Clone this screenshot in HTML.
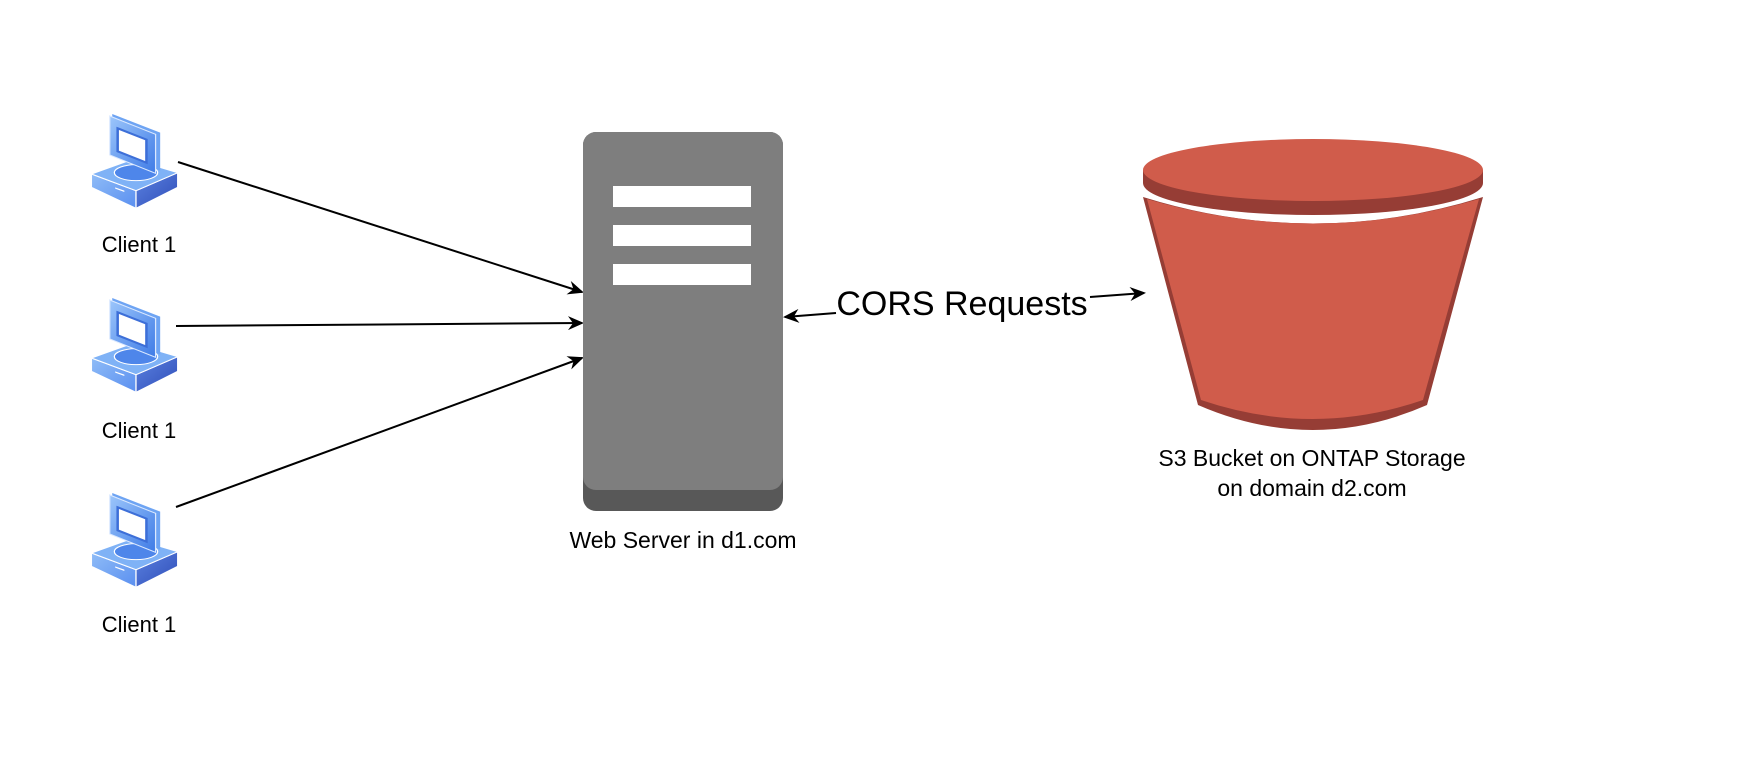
<!DOCTYPE html>
<html><head><meta charset="utf-8"><style>
html,body{margin:0;padding:0;background:#fff;}
svg{display:block;}
text{font-family:"Liberation Sans",Arial,sans-serif;fill:#000;}
</style></head><body>
<svg width="1748" height="758" viewBox="0 0 1748 758" xmlns="http://www.w3.org/2000/svg">
<defs>
<marker id="ah" markerWidth="16" markerHeight="14" refX="14" refY="7" orient="auto" markerUnits="userSpaceOnUse">
<path d="M0,0 L16,7 L0,14 L5,7 Z" fill="#000"/>
</marker>
<linearGradient id="gm" x1="0" y1="0" x2="1" y2="1">
<stop offset="0" stop-color="#9cc6fb"/><stop offset="1" stop-color="#3f7be6"/></linearGradient>
<linearGradient id="gl" x1="0" y1="0" x2="1" y2="1">
<stop offset="0" stop-color="#8fbcf7"/><stop offset="1" stop-color="#5a8ff0"/></linearGradient>
<linearGradient id="gr" x1="0" y1="0" x2="1" y2="1">
<stop offset="0" stop-color="#5b82e0"/><stop offset="1" stop-color="#2f4db8"/></linearGradient>
<g id="pc">
<polygon points="133,222 240,272 240,325 133,262" fill="url(#gl)" stroke="#fff" stroke-width="3"/>
<polygon points="240,272 340,218 340,262 240,325" fill="url(#gr)" stroke="#fff" stroke-width="3"/>
<polygon points="133,222 232,178 340,218 240,272" fill="#7fb2f6" stroke="#fff" stroke-width="3"/>
<ellipse cx="240" cy="218" rx="52" ry="24" fill="#4e86ea" stroke="#fff" stroke-width="3"/>
<polygon points="183,42 298,98 298,212 183,156" fill="#6ea4f3"/>
<polygon points="177,48 287,103 287,220 177,165" fill="url(#gm)" stroke="#dbe9ff" stroke-width="3"/>
<polygon points="196,85 265,119 265,188 196,154" fill="#fff" stroke="#3d6fd8" stroke-width="6"/>
<polygon points="190,262 212,272 212,276 190,266" fill="#fff"/>
</g>
</defs>

<!-- clients -->
<g transform="translate(36,100) scale(0.4167,0.3333)"><use href="#pc"/></g>
<g transform="translate(36,284) scale(0.4167,0.3333)"><use href="#pc"/></g>
<g transform="translate(36,479) scale(0.4167,0.3333)"><use href="#pc"/></g>
<text x="139" y="252" font-size="22" text-anchor="middle">Client 1</text>
<text x="139" y="438" font-size="22" text-anchor="middle">Client 1</text>
<text x="139" y="632" font-size="22" text-anchor="middle">Client 1</text>

<!-- arrows clients -> server -->
<line x1="178" y1="162" x2="582" y2="292" stroke="#000" stroke-width="2" marker-end="url(#ah)"/>
<line x1="176" y1="326" x2="582" y2="323" stroke="#000" stroke-width="2" marker-end="url(#ah)"/>
<line x1="176" y1="507" x2="582" y2="358" stroke="#000" stroke-width="2" marker-end="url(#ah)"/>

<!-- server -->
<rect x="583" y="132" width="200" height="379" rx="13" fill="#585858"/>
<rect x="583" y="132" width="200" height="358" rx="13" fill="#7e7e7e"/>
<rect x="613" y="186" width="138" height="21" fill="#fff"/>
<rect x="613" y="225" width="138" height="21" fill="#fff"/>
<rect x="613" y="264" width="138" height="21" fill="#fff"/>
<text x="683" y="548" font-size="23" text-anchor="middle">Web Server in d1.com</text>

<!-- CORS -->
<line x1="836" y1="313" x2="785" y2="317" stroke="#000" stroke-width="2" marker-end="url(#ah)"/>
<line x1="1090" y1="297" x2="1144" y2="293" stroke="#000" stroke-width="2" marker-end="url(#ah)"/>
<text x="962" y="315" font-size="34" text-anchor="middle">CORS Requests</text>

<!-- bucket -->
<path d="M1143,197 Q1313,250 1483,197 L1427,405 Q1313,455 1198,405 Z" fill="#963d35"/>
<path d="M1147,199 Q1313,248 1479,199 L1423,400 Q1313,438 1201,400 Z" fill="#d05c4b"/>
<path d="M1143,170 L1143,183 A170,32 0 0 0 1483,183 L1483,170 Z" fill="#963d35"/>
<ellipse cx="1313" cy="170" rx="170" ry="31" fill="#d05c4b"/>
<text x="1312" y="466" font-size="23" text-anchor="middle">S3 Bucket on ONTAP Storage</text>
<text x="1312" y="496" font-size="23" text-anchor="middle">on domain d2.com</text>
</svg>
</body></html>
